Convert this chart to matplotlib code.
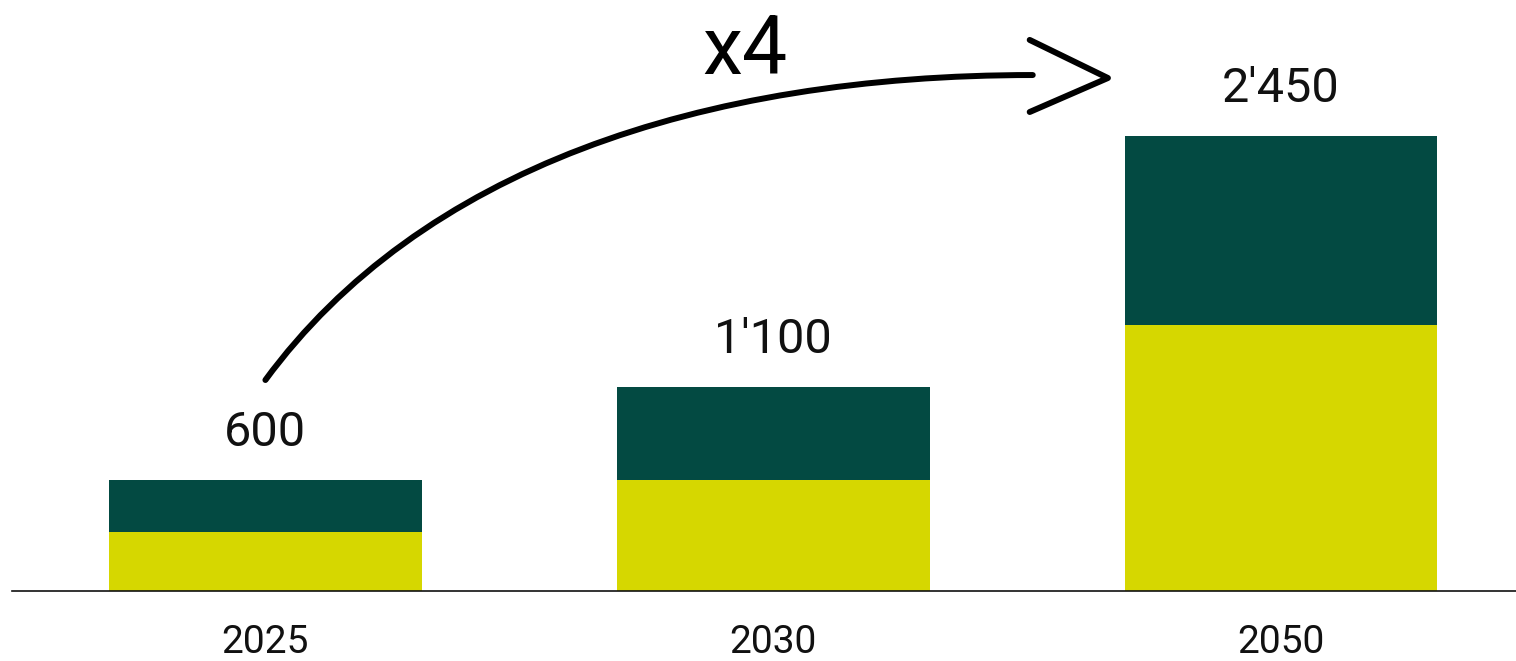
import matplotlib
matplotlib.use("Agg")
import matplotlib.pyplot as plt
from matplotlib.path import Path
from matplotlib.patches import PathPatch
import numpy as np

years = ["2025", "2030", "2050"]
lower = [320, 600, 1430]     # yellow segment
upper = [280, 500, 1020]     # dark green segment
totals = [a + b for a, b in zip(lower, upper)]
multiplier_label = "x4"

YELLOW = "#d6d700"
GREEN = "#034a42"

plt.rcParams['font.family'] = ['Roboto', 'DejaVu Sans']

W, H = 1516, 661
fig = plt.figure(figsize=(W / 100, H / 100), dpi=100)
ax = fig.add_axes([12 / W, 70 / H, 1504 / W, 591 / H])

x = np.arange(len(years))
width = 0.616
ax.bar(x, lower, width, color=YELLOW, zorder=2)
ax.bar(x, upper, width, bottom=lower, color=GREEN, zorder=2)

def fmt(v):
    return f"{v:,}".replace(",", "'")

for xi, t in zip(x, totals):
    ax.annotate(fmt(t), (xi, t), xytext=(0, 24.5), textcoords="offset points",
                ha="center", va="baseline", fontsize=35, color="#111111")

ax.set_xlim(-0.499, 2.4626)
ax.set_ylim(0, 3182)
ax.set_xticks(x)
ax.set_xticklabels(years, fontsize=28, color="#111111")
ax.tick_params(axis="x", length=0, pad=24)
ax.set_yticks([])
for s in ["top", "right", "left"]:
    ax.spines[s].set_visible(False)
ax.spines["bottom"].set_color("#111111")
ax.spines["bottom"].set_linewidth(1.2)

# hand-drawn style growth arrow from first to last bar
p0 = (x[0], totals[0] + 536)
c1 = (0.304, 2267)
c2 = (0.855, 2778)
p3 = (1.511, 2778)
curve = Path([p0, c1, c2, p3], [Path.MOVETO, Path.CURVE4, Path.CURVE4, Path.CURVE4])
ax.add_patch(PathPatch(curve, fill=False, lw=4.3, color="black",
                       capstyle="round", zorder=3))
head_x = [1.505, 1.659, 1.505]
head_y = [2967, 2762, 2579]
ax.plot(head_x, head_y, color="black", lw=4.3, solid_capstyle="round",
        solid_joinstyle="round", zorder=3)
ax.text(0.944, 2900, multiplier_label, ha="center", va="center",
        fontsize=58, color="black", zorder=3)

fig.savefig("out.png", dpi=100)
